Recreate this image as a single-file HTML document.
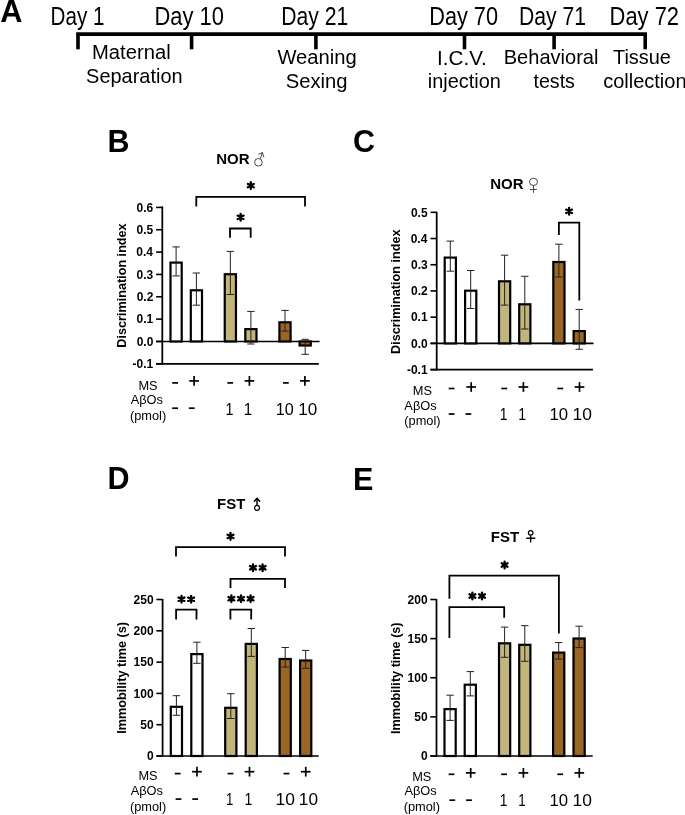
<!DOCTYPE html>
<html><head><meta charset="utf-8"><style>
html,body{margin:0;padding:0;background:#fff;}
svg{display:block;will-change:transform;}
text{font-family:"Liberation Sans",sans-serif;}
</style></head><body>
<svg width="685" height="815" viewBox="0 0 685 815">
<rect width="685" height="815" fill="#fff"/>
<text transform="translate(0.13,21.50) scale(0.9918,1)" font-size="31" font-weight="bold" fill="#000">A</text>
<text transform="translate(50.50,24.90) scale(0.8096,1)" font-size="25.5" font-weight="normal" fill="#000">Day 1</text>
<text transform="translate(154.49,24.90) scale(0.8583,1)" font-size="25.5" font-weight="normal" fill="#000">Day 10</text>
<text transform="translate(281.15,24.90) scale(0.8301,1)" font-size="25.5" font-weight="normal" fill="#000">Day 21</text>
<text transform="translate(429.21,24.90) scale(0.8519,1)" font-size="25.5" font-weight="normal" fill="#000">Day 70</text>
<text transform="translate(519.05,24.90) scale(0.8301,1)" font-size="25.5" font-weight="normal" fill="#000">Day 71</text>
<text transform="translate(609.59,24.90) scale(0.8593,1)" font-size="25.5" font-weight="normal" fill="#000">Day 72</text>
<line x1="76.20" y1="34.10" x2="647.00" y2="34.10" stroke="#000" stroke-width="3.6" stroke-linecap="butt"/>
<line x1="78.00" y1="34.10" x2="78.00" y2="49.30" stroke="#000" stroke-width="3.6" stroke-linecap="butt"/>
<line x1="191.60" y1="34.10" x2="191.60" y2="49.30" stroke="#000" stroke-width="3.6" stroke-linecap="butt"/>
<line x1="315.90" y1="34.10" x2="315.90" y2="49.30" stroke="#000" stroke-width="3.6" stroke-linecap="butt"/>
<line x1="464.50" y1="34.10" x2="464.50" y2="49.30" stroke="#000" stroke-width="3.6" stroke-linecap="butt"/>
<line x1="554.10" y1="34.10" x2="554.10" y2="49.30" stroke="#000" stroke-width="3.6" stroke-linecap="butt"/>
<line x1="645.20" y1="34.10" x2="645.20" y2="49.30" stroke="#000" stroke-width="3.6" stroke-linecap="butt"/>
<text transform="translate(92.03,59.20) scale(1.0107,1)" font-size="20.0" font-weight="normal" fill="#000">Maternal</text>
<text transform="translate(86.10,83.20) scale(0.9974,1)" font-size="20.0" font-weight="normal" fill="#000">Separation</text>
<text transform="translate(277.40,63.90) scale(1.0104,1)" font-size="20.0" font-weight="normal" fill="#000">Weaning</text>
<text transform="translate(285.69,87.60) scale(1.0102,1)" font-size="20.0" font-weight="normal" fill="#000">Sexing</text>
<text transform="translate(437.09,64.60) scale(1.0337,1)" font-size="20.0" font-weight="normal" fill="#000">I.C.V.</text>
<text transform="translate(427.85,87.70) scale(0.9965,1)" font-size="20.0" font-weight="normal" fill="#000">injection</text>
<text transform="translate(503.74,64.20) scale(1.0033,1)" font-size="20.0" font-weight="normal" fill="#000">Behavioral</text>
<text transform="translate(533.51,87.70) scale(0.9818,1)" font-size="20.0" font-weight="normal" fill="#000">tests</text>
<text transform="translate(612.95,64.20) scale(0.9974,1)" font-size="20.0" font-weight="normal" fill="#000">Tissue</text>
<text transform="translate(603.15,87.70) scale(1.0000,1)" font-size="20.0" font-weight="normal" fill="#000">collection</text>
<text transform="translate(107.44,152.00) scale(1.0000,1)" font-size="30.5" font-weight="bold" fill="#000">B</text>
<text transform="translate(216.29,164.30) scale(1.0000,1)" font-size="15" font-weight="bold" fill="#000">NOR</text>
<line x1="162.30" y1="206.40" x2="162.30" y2="364.59" stroke="#000" stroke-width="1.75" stroke-linecap="butt"/>
<line x1="156.10" y1="207.41" x2="162.30" y2="207.41" stroke="#000" stroke-width="1.6" stroke-linecap="butt"/>
<text transform="translate(136.60,211.71) scale(0.9700,1)" font-size="12.4" font-weight="bold" fill="#000">0.6</text>
<line x1="156.10" y1="229.75" x2="162.30" y2="229.75" stroke="#000" stroke-width="1.6" stroke-linecap="butt"/>
<text transform="translate(136.51,234.05) scale(0.9700,1)" font-size="12.4" font-weight="bold" fill="#000">0.5</text>
<line x1="156.10" y1="252.09" x2="162.30" y2="252.09" stroke="#000" stroke-width="1.6" stroke-linecap="butt"/>
<text transform="translate(136.24,256.39) scale(0.9700,1)" font-size="12.4" font-weight="bold" fill="#000">0.4</text>
<line x1="156.10" y1="274.43" x2="162.30" y2="274.43" stroke="#000" stroke-width="1.6" stroke-linecap="butt"/>
<text transform="translate(136.60,278.73) scale(0.9700,1)" font-size="12.4" font-weight="bold" fill="#000">0.3</text>
<line x1="156.10" y1="296.77" x2="162.30" y2="296.77" stroke="#000" stroke-width="1.6" stroke-linecap="butt"/>
<text transform="translate(136.63,301.07) scale(0.9700,1)" font-size="12.4" font-weight="bold" fill="#000">0.2</text>
<line x1="156.10" y1="319.11" x2="162.30" y2="319.11" stroke="#000" stroke-width="1.6" stroke-linecap="butt"/>
<text transform="translate(136.51,323.41) scale(0.9700,1)" font-size="12.4" font-weight="bold" fill="#000">0.1</text>
<line x1="156.10" y1="341.45" x2="162.30" y2="341.45" stroke="#000" stroke-width="1.6" stroke-linecap="butt"/>
<text transform="translate(136.66,345.75) scale(0.9700,1)" font-size="12.4" font-weight="bold" fill="#000">0.0</text>
<line x1="156.10" y1="363.79" x2="162.30" y2="363.79" stroke="#000" stroke-width="1.6" stroke-linecap="butt"/>
<text transform="translate(132.51,368.09) scale(0.9700,1)" font-size="12.4" font-weight="bold" fill="#000">-0.1</text>
<line x1="156.10" y1="363.79" x2="318.80" y2="363.79" stroke="#000" stroke-width="1.7" stroke-linecap="butt"/>
<line x1="156.10" y1="341.45" x2="319.60" y2="341.45" stroke="#000" stroke-width="1.6" stroke-linecap="butt"/>
<text transform="translate(126.27,347.69) rotate(-90) scale(1.0000,1)" font-size="12.65" font-weight="bold">Discrimination index</text>
<rect x="170.50" y="262.60" width="11.20" height="78.85" fill="#ffffff" stroke="#000" stroke-width="2.2"/>
<rect x="190.80" y="290.30" width="11.20" height="51.15" fill="#ffffff" stroke="#000" stroke-width="2.2"/>
<rect x="224.75" y="274.20" width="11.20" height="67.25" fill="#c1b57b" stroke="#000" stroke-width="2.2"/>
<rect x="245.30" y="329.10" width="11.20" height="12.35" fill="#c1b57b" stroke="#000" stroke-width="2.2"/>
<rect x="279.40" y="322.30" width="11.20" height="19.15" fill="#9a6626" stroke="#000" stroke-width="2.2"/>
<rect x="299.60" y="341.45" width="11.20" height="4.05" fill="#9a6626" stroke="#000" stroke-width="2.2"/>
<line x1="176.10" y1="246.90" x2="176.10" y2="275.90" stroke="#222" stroke-width="1.0" stroke-linecap="butt"/>
<line x1="172.40" y1="246.90" x2="179.80" y2="246.90" stroke="#222" stroke-width="1.0" stroke-linecap="butt"/>
<line x1="172.40" y1="275.90" x2="179.80" y2="275.90" stroke="#222" stroke-width="1.0" stroke-linecap="butt"/>
<line x1="196.40" y1="273.00" x2="196.40" y2="305.20" stroke="#222" stroke-width="1.0" stroke-linecap="butt"/>
<line x1="192.70" y1="273.00" x2="200.10" y2="273.00" stroke="#222" stroke-width="1.0" stroke-linecap="butt"/>
<line x1="192.70" y1="305.20" x2="200.10" y2="305.20" stroke="#222" stroke-width="1.0" stroke-linecap="butt"/>
<line x1="230.35" y1="251.40" x2="230.35" y2="294.50" stroke="#222" stroke-width="1.0" stroke-linecap="butt"/>
<line x1="226.65" y1="251.40" x2="234.05" y2="251.40" stroke="#222" stroke-width="1.0" stroke-linecap="butt"/>
<line x1="226.65" y1="294.50" x2="234.05" y2="294.50" stroke="#222" stroke-width="1.0" stroke-linecap="butt"/>
<line x1="250.90" y1="311.40" x2="250.90" y2="344.00" stroke="#222" stroke-width="1.0" stroke-linecap="butt"/>
<line x1="247.20" y1="311.40" x2="254.60" y2="311.40" stroke="#222" stroke-width="1.0" stroke-linecap="butt"/>
<line x1="247.20" y1="344.00" x2="254.60" y2="344.00" stroke="#222" stroke-width="1.0" stroke-linecap="butt"/>
<line x1="285.00" y1="310.40" x2="285.00" y2="331.10" stroke="#222" stroke-width="1.0" stroke-linecap="butt"/>
<line x1="281.30" y1="310.40" x2="288.70" y2="310.40" stroke="#222" stroke-width="1.0" stroke-linecap="butt"/>
<line x1="281.30" y1="331.10" x2="288.70" y2="331.10" stroke="#222" stroke-width="1.0" stroke-linecap="butt"/>
<line x1="305.20" y1="339.30" x2="305.20" y2="354.30" stroke="#222" stroke-width="1.0" stroke-linecap="butt"/>
<line x1="301.50" y1="339.30" x2="308.90" y2="339.30" stroke="#222" stroke-width="1.0" stroke-linecap="butt"/>
<line x1="301.50" y1="354.30" x2="308.90" y2="354.30" stroke="#222" stroke-width="1.0" stroke-linecap="butt"/>
<path d="M196.30,206.50L196.30,196.80L305.00,196.80L305.00,206.50" stroke="#000" stroke-width="1.8" fill="none" stroke-linejoin="miter"/>
<path d="M250.80,189.00L250.80,182.20M247.86,187.30L253.74,183.90M253.74,187.30L247.86,183.90" stroke="#000" stroke-width="2.3" stroke-linecap="round" fill="none"/>
<path d="M230.00,237.80L230.00,228.50L250.70,228.50L250.70,237.80" stroke="#000" stroke-width="1.8" fill="none" stroke-linejoin="miter"/>
<path d="M240.60,220.70L240.60,213.90M237.66,219.00L243.54,215.60M243.54,219.00L237.66,215.60" stroke="#000" stroke-width="2.3" stroke-linecap="round" fill="none"/>
<text transform="translate(353.08,152.00) scale(1.0000,1)" font-size="30.5" font-weight="bold" fill="#000">C</text>
<text transform="translate(490.29,189.30) scale(1.0000,1)" font-size="15" font-weight="bold" fill="#000">NOR</text>
<line x1="436.70" y1="211.80" x2="436.70" y2="370.42" stroke="#000" stroke-width="1.75" stroke-linecap="butt"/>
<line x1="430.50" y1="212.30" x2="436.70" y2="212.30" stroke="#000" stroke-width="1.6" stroke-linecap="butt"/>
<text transform="translate(410.91,216.60) scale(0.9700,1)" font-size="12.4" font-weight="bold" fill="#000">0.5</text>
<line x1="430.50" y1="238.52" x2="436.70" y2="238.52" stroke="#000" stroke-width="1.6" stroke-linecap="butt"/>
<text transform="translate(410.64,242.82) scale(0.9700,1)" font-size="12.4" font-weight="bold" fill="#000">0.4</text>
<line x1="430.50" y1="264.74" x2="436.70" y2="264.74" stroke="#000" stroke-width="1.6" stroke-linecap="butt"/>
<text transform="translate(411.00,269.04) scale(0.9700,1)" font-size="12.4" font-weight="bold" fill="#000">0.3</text>
<line x1="430.50" y1="290.96" x2="436.70" y2="290.96" stroke="#000" stroke-width="1.6" stroke-linecap="butt"/>
<text transform="translate(411.03,295.26) scale(0.9700,1)" font-size="12.4" font-weight="bold" fill="#000">0.2</text>
<line x1="430.50" y1="317.18" x2="436.70" y2="317.18" stroke="#000" stroke-width="1.6" stroke-linecap="butt"/>
<text transform="translate(410.91,321.48) scale(0.9700,1)" font-size="12.4" font-weight="bold" fill="#000">0.1</text>
<line x1="430.50" y1="343.40" x2="436.70" y2="343.40" stroke="#000" stroke-width="1.6" stroke-linecap="butt"/>
<text transform="translate(411.06,347.70) scale(0.9700,1)" font-size="12.4" font-weight="bold" fill="#000">0.0</text>
<line x1="430.50" y1="369.62" x2="436.70" y2="369.62" stroke="#000" stroke-width="1.6" stroke-linecap="butt"/>
<text transform="translate(406.91,373.92) scale(0.9700,1)" font-size="12.4" font-weight="bold" fill="#000">-0.1</text>
<line x1="430.50" y1="369.62" x2="592.90" y2="369.62" stroke="#000" stroke-width="1.7" stroke-linecap="butt"/>
<line x1="430.50" y1="343.40" x2="593.50" y2="343.40" stroke="#000" stroke-width="1.6" stroke-linecap="butt"/>
<text transform="translate(399.97,353.89) rotate(-90) scale(1.0000,1)" font-size="12.65" font-weight="bold">Discrimination index</text>
<rect x="444.70" y="257.60" width="11.20" height="85.80" fill="#ffffff" stroke="#000" stroke-width="2.2"/>
<rect x="465.10" y="290.70" width="11.20" height="52.70" fill="#ffffff" stroke="#000" stroke-width="2.2"/>
<rect x="499.00" y="281.30" width="11.20" height="62.10" fill="#c1b57b" stroke="#000" stroke-width="2.2"/>
<rect x="519.20" y="304.30" width="11.20" height="39.10" fill="#c1b57b" stroke="#000" stroke-width="2.2"/>
<rect x="553.30" y="262.00" width="11.20" height="81.40" fill="#9a6626" stroke="#000" stroke-width="2.2"/>
<rect x="573.60" y="331.10" width="11.20" height="12.30" fill="#9a6626" stroke="#000" stroke-width="2.2"/>
<line x1="450.30" y1="241.10" x2="450.30" y2="271.20" stroke="#222" stroke-width="1.0" stroke-linecap="butt"/>
<line x1="446.60" y1="241.10" x2="454.00" y2="241.10" stroke="#222" stroke-width="1.0" stroke-linecap="butt"/>
<line x1="446.60" y1="271.20" x2="454.00" y2="271.20" stroke="#222" stroke-width="1.0" stroke-linecap="butt"/>
<line x1="470.70" y1="270.50" x2="470.70" y2="308.50" stroke="#222" stroke-width="1.0" stroke-linecap="butt"/>
<line x1="467.00" y1="270.50" x2="474.40" y2="270.50" stroke="#222" stroke-width="1.0" stroke-linecap="butt"/>
<line x1="467.00" y1="308.50" x2="474.40" y2="308.50" stroke="#222" stroke-width="1.0" stroke-linecap="butt"/>
<line x1="504.60" y1="255.20" x2="504.60" y2="305.10" stroke="#222" stroke-width="1.0" stroke-linecap="butt"/>
<line x1="500.90" y1="255.20" x2="508.30" y2="255.20" stroke="#222" stroke-width="1.0" stroke-linecap="butt"/>
<line x1="500.90" y1="305.10" x2="508.30" y2="305.10" stroke="#222" stroke-width="1.0" stroke-linecap="butt"/>
<line x1="524.80" y1="276.30" x2="524.80" y2="329.00" stroke="#222" stroke-width="1.0" stroke-linecap="butt"/>
<line x1="521.10" y1="276.30" x2="528.50" y2="276.30" stroke="#222" stroke-width="1.0" stroke-linecap="butt"/>
<line x1="521.10" y1="329.00" x2="528.50" y2="329.00" stroke="#222" stroke-width="1.0" stroke-linecap="butt"/>
<line x1="558.90" y1="244.20" x2="558.90" y2="277.00" stroke="#222" stroke-width="1.0" stroke-linecap="butt"/>
<line x1="555.20" y1="244.20" x2="562.60" y2="244.20" stroke="#222" stroke-width="1.0" stroke-linecap="butt"/>
<line x1="555.20" y1="277.00" x2="562.60" y2="277.00" stroke="#222" stroke-width="1.0" stroke-linecap="butt"/>
<line x1="579.20" y1="309.40" x2="579.20" y2="349.30" stroke="#222" stroke-width="1.0" stroke-linecap="butt"/>
<line x1="575.50" y1="309.40" x2="582.90" y2="309.40" stroke="#222" stroke-width="1.0" stroke-linecap="butt"/>
<line x1="575.50" y1="349.30" x2="582.90" y2="349.30" stroke="#222" stroke-width="1.0" stroke-linecap="butt"/>
<path d="M558.90,235.10L558.90,222.60L579.30,222.60L579.30,300.50" stroke="#000" stroke-width="1.8" fill="none" stroke-linejoin="miter"/>
<path d="M569.10,214.70L569.10,207.90M566.16,213.00L572.04,209.60M572.04,213.00L566.16,209.60" stroke="#000" stroke-width="2.3" stroke-linecap="round" fill="none"/>
<text transform="translate(107.44,489.20) scale(1.0000,1)" font-size="30.5" font-weight="bold" fill="#000">D</text>
<text transform="translate(217.09,509.40) scale(1.0000,1)" font-size="15" font-weight="bold" fill="#000">FST</text>
<line x1="162.60" y1="599.00" x2="162.60" y2="756.80" stroke="#000" stroke-width="1.75" stroke-linecap="butt"/>
<line x1="156.40" y1="599.50" x2="162.60" y2="599.50" stroke="#000" stroke-width="1.6" stroke-linecap="butt"/>
<text transform="translate(133.62,603.80) scale(0.9700,1)" font-size="12.4" font-weight="bold" fill="#000">250</text>
<line x1="156.40" y1="630.80" x2="162.60" y2="630.80" stroke="#000" stroke-width="1.6" stroke-linecap="butt"/>
<text transform="translate(133.62,635.10) scale(0.9700,1)" font-size="12.4" font-weight="bold" fill="#000">200</text>
<line x1="156.40" y1="662.10" x2="162.60" y2="662.10" stroke="#000" stroke-width="1.6" stroke-linecap="butt"/>
<text transform="translate(133.62,666.40) scale(0.9700,1)" font-size="12.4" font-weight="bold" fill="#000">150</text>
<line x1="156.40" y1="693.40" x2="162.60" y2="693.40" stroke="#000" stroke-width="1.6" stroke-linecap="butt"/>
<text transform="translate(133.62,697.70) scale(0.9700,1)" font-size="12.4" font-weight="bold" fill="#000">100</text>
<line x1="156.40" y1="724.70" x2="162.60" y2="724.70" stroke="#000" stroke-width="1.6" stroke-linecap="butt"/>
<text transform="translate(140.33,729.00) scale(0.9700,1)" font-size="12.4" font-weight="bold" fill="#000">50</text>
<line x1="156.40" y1="756.00" x2="162.60" y2="756.00" stroke="#000" stroke-width="1.6" stroke-linecap="butt"/>
<text transform="translate(147.01,760.30) scale(0.9700,1)" font-size="12.4" font-weight="bold" fill="#000">0</text>
<line x1="156.40" y1="756.00" x2="318.75" y2="756.00" stroke="#000" stroke-width="1.7" stroke-linecap="butt"/>
<text transform="translate(125.67,733.79) rotate(-90) scale(1.0000,1)" font-size="12.65" font-weight="bold">Immobility time (s)</text>
<rect x="170.80" y="706.80" width="11.20" height="49.20" fill="#ffffff" stroke="#000" stroke-width="2.2"/>
<rect x="191.30" y="654.10" width="11.20" height="101.90" fill="#ffffff" stroke="#000" stroke-width="2.2"/>
<rect x="225.20" y="707.80" width="11.20" height="48.20" fill="#c1b57b" stroke="#000" stroke-width="2.2"/>
<rect x="245.70" y="643.90" width="11.20" height="112.10" fill="#c1b57b" stroke="#000" stroke-width="2.2"/>
<rect x="279.60" y="659.00" width="11.20" height="97.00" fill="#9a6626" stroke="#000" stroke-width="2.2"/>
<rect x="300.10" y="660.50" width="11.20" height="95.50" fill="#9a6626" stroke="#000" stroke-width="2.2"/>
<line x1="176.40" y1="695.70" x2="176.40" y2="715.30" stroke="#222" stroke-width="1.0" stroke-linecap="butt"/>
<line x1="172.70" y1="695.70" x2="180.10" y2="695.70" stroke="#222" stroke-width="1.0" stroke-linecap="butt"/>
<line x1="172.70" y1="715.30" x2="180.10" y2="715.30" stroke="#222" stroke-width="1.0" stroke-linecap="butt"/>
<line x1="196.90" y1="642.20" x2="196.90" y2="663.30" stroke="#222" stroke-width="1.0" stroke-linecap="butt"/>
<line x1="193.20" y1="642.20" x2="200.60" y2="642.20" stroke="#222" stroke-width="1.0" stroke-linecap="butt"/>
<line x1="193.20" y1="663.30" x2="200.60" y2="663.30" stroke="#222" stroke-width="1.0" stroke-linecap="butt"/>
<line x1="230.80" y1="693.70" x2="230.80" y2="718.50" stroke="#222" stroke-width="1.0" stroke-linecap="butt"/>
<line x1="227.10" y1="693.70" x2="234.50" y2="693.70" stroke="#222" stroke-width="1.0" stroke-linecap="butt"/>
<line x1="227.10" y1="718.50" x2="234.50" y2="718.50" stroke="#222" stroke-width="1.0" stroke-linecap="butt"/>
<line x1="251.30" y1="628.50" x2="251.30" y2="656.40" stroke="#222" stroke-width="1.0" stroke-linecap="butt"/>
<line x1="247.60" y1="628.50" x2="255.00" y2="628.50" stroke="#222" stroke-width="1.0" stroke-linecap="butt"/>
<line x1="247.60" y1="656.40" x2="255.00" y2="656.40" stroke="#222" stroke-width="1.0" stroke-linecap="butt"/>
<line x1="285.20" y1="647.50" x2="285.20" y2="667.10" stroke="#222" stroke-width="1.0" stroke-linecap="butt"/>
<line x1="281.50" y1="647.50" x2="288.90" y2="647.50" stroke="#222" stroke-width="1.0" stroke-linecap="butt"/>
<line x1="281.50" y1="667.10" x2="288.90" y2="667.10" stroke="#222" stroke-width="1.0" stroke-linecap="butt"/>
<line x1="305.70" y1="650.40" x2="305.70" y2="668.30" stroke="#222" stroke-width="1.0" stroke-linecap="butt"/>
<line x1="302.00" y1="650.40" x2="309.40" y2="650.40" stroke="#222" stroke-width="1.0" stroke-linecap="butt"/>
<line x1="302.00" y1="668.30" x2="309.40" y2="668.30" stroke="#222" stroke-width="1.0" stroke-linecap="butt"/>
<path d="M176.00,556.60L176.00,547.10L285.00,547.10L285.00,556.60" stroke="#000" stroke-width="1.8" fill="none" stroke-linejoin="miter"/>
<path d="M230.50,539.80L230.50,533.00M227.56,538.10L233.44,534.70M233.44,538.10L227.56,534.70" stroke="#000" stroke-width="2.3" stroke-linecap="round" fill="none"/>
<path d="M230.50,588.00L230.50,578.80L285.00,578.80L285.00,588.00" stroke="#000" stroke-width="1.8" fill="none" stroke-linejoin="miter"/>
<path d="M253.00,571.15L253.00,564.35M250.06,569.45L255.94,566.05M255.94,569.45L250.06,566.05" stroke="#000" stroke-width="2.3" stroke-linecap="round" fill="none"/>
<path d="M262.60,571.15L262.60,564.35M259.66,569.45L265.54,566.05M265.54,569.45L259.66,566.05" stroke="#000" stroke-width="2.3" stroke-linecap="round" fill="none"/>
<path d="M176.10,619.60L176.10,609.70L196.50,609.70L196.50,619.60" stroke="#000" stroke-width="1.8" fill="none" stroke-linejoin="miter"/>
<path d="M181.50,602.60L181.50,595.80M178.56,600.90L184.44,597.50M184.44,600.90L178.56,597.50" stroke="#000" stroke-width="2.3" stroke-linecap="round" fill="none"/>
<path d="M191.10,602.60L191.10,595.80M188.16,600.90L194.04,597.50M194.04,600.90L188.16,597.50" stroke="#000" stroke-width="2.3" stroke-linecap="round" fill="none"/>
<path d="M230.40,619.60L230.40,609.70L251.20,609.70L251.20,619.60" stroke="#000" stroke-width="1.8" fill="none" stroke-linejoin="miter"/>
<path d="M231.40,602.10L231.40,595.30M228.46,600.40L234.34,597.00M234.34,600.40L228.46,597.00" stroke="#000" stroke-width="2.3" stroke-linecap="round" fill="none"/>
<path d="M241.00,602.10L241.00,595.30M238.06,600.40L243.94,597.00M243.94,600.40L238.06,597.00" stroke="#000" stroke-width="2.3" stroke-linecap="round" fill="none"/>
<path d="M250.60,602.10L250.60,595.30M247.66,600.40L253.54,597.00M253.54,600.40L247.66,597.00" stroke="#000" stroke-width="2.3" stroke-linecap="round" fill="none"/>
<text transform="translate(353.04,489.60) scale(1.0000,1)" font-size="30.5" font-weight="bold" fill="#000">E</text>
<text transform="translate(490.79,541.60) scale(1.0000,1)" font-size="15" font-weight="bold" fill="#000">FST</text>
<line x1="436.50" y1="599.00" x2="436.50" y2="756.80" stroke="#000" stroke-width="1.75" stroke-linecap="butt"/>
<line x1="430.30" y1="599.50" x2="436.50" y2="599.50" stroke="#000" stroke-width="1.6" stroke-linecap="butt"/>
<text transform="translate(407.52,603.80) scale(0.9700,1)" font-size="12.4" font-weight="bold" fill="#000">200</text>
<line x1="430.30" y1="638.62" x2="436.50" y2="638.62" stroke="#000" stroke-width="1.6" stroke-linecap="butt"/>
<text transform="translate(407.52,642.92) scale(0.9700,1)" font-size="12.4" font-weight="bold" fill="#000">150</text>
<line x1="430.30" y1="677.75" x2="436.50" y2="677.75" stroke="#000" stroke-width="1.6" stroke-linecap="butt"/>
<text transform="translate(407.52,682.05) scale(0.9700,1)" font-size="12.4" font-weight="bold" fill="#000">100</text>
<line x1="430.30" y1="716.88" x2="436.50" y2="716.88" stroke="#000" stroke-width="1.6" stroke-linecap="butt"/>
<text transform="translate(414.23,721.17) scale(0.9700,1)" font-size="12.4" font-weight="bold" fill="#000">50</text>
<line x1="430.30" y1="756.00" x2="436.50" y2="756.00" stroke="#000" stroke-width="1.6" stroke-linecap="butt"/>
<text transform="translate(420.91,760.30) scale(0.9700,1)" font-size="12.4" font-weight="bold" fill="#000">0</text>
<line x1="430.30" y1="756.00" x2="592.70" y2="756.00" stroke="#000" stroke-width="1.7" stroke-linecap="butt"/>
<text transform="translate(400.17,734.09) rotate(-90) scale(1.0000,1)" font-size="12.65" font-weight="bold">Immobility time (s)</text>
<rect x="444.50" y="709.10" width="11.20" height="46.90" fill="#ffffff" stroke="#000" stroke-width="2.2"/>
<rect x="464.70" y="684.70" width="11.20" height="71.30" fill="#ffffff" stroke="#000" stroke-width="2.2"/>
<rect x="499.00" y="643.30" width="11.20" height="112.70" fill="#c1b57b" stroke="#000" stroke-width="2.2"/>
<rect x="519.20" y="644.80" width="11.20" height="111.20" fill="#c1b57b" stroke="#000" stroke-width="2.2"/>
<rect x="553.10" y="652.60" width="11.20" height="103.40" fill="#9a6626" stroke="#000" stroke-width="2.2"/>
<rect x="573.50" y="638.50" width="11.20" height="117.50" fill="#9a6626" stroke="#000" stroke-width="2.2"/>
<line x1="450.10" y1="695.20" x2="450.10" y2="720.40" stroke="#222" stroke-width="1.0" stroke-linecap="butt"/>
<line x1="446.40" y1="695.20" x2="453.80" y2="695.20" stroke="#222" stroke-width="1.0" stroke-linecap="butt"/>
<line x1="446.40" y1="720.40" x2="453.80" y2="720.40" stroke="#222" stroke-width="1.0" stroke-linecap="butt"/>
<line x1="470.30" y1="671.60" x2="470.30" y2="695.90" stroke="#222" stroke-width="1.0" stroke-linecap="butt"/>
<line x1="466.60" y1="671.60" x2="474.00" y2="671.60" stroke="#222" stroke-width="1.0" stroke-linecap="butt"/>
<line x1="466.60" y1="695.90" x2="474.00" y2="695.90" stroke="#222" stroke-width="1.0" stroke-linecap="butt"/>
<line x1="504.60" y1="627.10" x2="504.60" y2="657.30" stroke="#222" stroke-width="1.0" stroke-linecap="butt"/>
<line x1="500.90" y1="627.10" x2="508.30" y2="627.10" stroke="#222" stroke-width="1.0" stroke-linecap="butt"/>
<line x1="500.90" y1="657.30" x2="508.30" y2="657.30" stroke="#222" stroke-width="1.0" stroke-linecap="butt"/>
<line x1="524.80" y1="625.70" x2="524.80" y2="661.30" stroke="#222" stroke-width="1.0" stroke-linecap="butt"/>
<line x1="521.10" y1="625.70" x2="528.50" y2="625.70" stroke="#222" stroke-width="1.0" stroke-linecap="butt"/>
<line x1="521.10" y1="661.30" x2="528.50" y2="661.30" stroke="#222" stroke-width="1.0" stroke-linecap="butt"/>
<line x1="558.70" y1="642.60" x2="558.70" y2="659.10" stroke="#222" stroke-width="1.0" stroke-linecap="butt"/>
<line x1="555.00" y1="642.60" x2="562.40" y2="642.60" stroke="#222" stroke-width="1.0" stroke-linecap="butt"/>
<line x1="555.00" y1="659.10" x2="562.40" y2="659.10" stroke="#222" stroke-width="1.0" stroke-linecap="butt"/>
<line x1="579.10" y1="626.20" x2="579.10" y2="647.60" stroke="#222" stroke-width="1.0" stroke-linecap="butt"/>
<line x1="575.40" y1="626.20" x2="582.80" y2="626.20" stroke="#222" stroke-width="1.0" stroke-linecap="butt"/>
<line x1="575.40" y1="647.60" x2="582.80" y2="647.60" stroke="#222" stroke-width="1.0" stroke-linecap="butt"/>
<path d="M449.40,598.70L449.40,575.70L558.90,575.70L558.90,633.50" stroke="#000" stroke-width="1.8" fill="none" stroke-linejoin="miter"/>
<path d="M504.60,568.40L504.60,561.60M501.66,566.70L507.54,563.30M507.54,566.70L501.66,563.30" stroke="#000" stroke-width="2.3" stroke-linecap="round" fill="none"/>
<path d="M449.40,638.10L449.40,607.20L504.20,607.20L504.20,617.70" stroke="#000" stroke-width="1.8" fill="none" stroke-linejoin="miter"/>
<path d="M472.40,599.40L472.40,592.60M469.46,597.70L475.34,594.30M475.34,597.70L469.46,594.30" stroke="#000" stroke-width="2.3" stroke-linecap="round" fill="none"/>
<path d="M482.00,599.40L482.00,592.60M479.06,597.70L484.94,594.30M484.94,597.70L479.06,594.30" stroke="#000" stroke-width="2.3" stroke-linecap="round" fill="none"/>
<path d="M260.3,158.6L262.4,152.5M258.3,154.4L262.4,152.5L263.9,157.3" stroke="#333" stroke-width="0.9" fill="none" />
<circle cx="258.4" cy="162.3" r="3.8" stroke="#333" stroke-width="0.9" fill="none"/>
<ellipse cx="533.5" cy="181.85" rx="4.0" ry="3.6" stroke="#333" stroke-width="0.9" fill="none"/>
<path d="M533.5,185.5L533.5,192.8M529.9,189.5L536.8,189.5" stroke="#333" stroke-width="0.9" fill="none" />
<circle cx="257.0" cy="507.9" r="2.45" stroke="#000" stroke-width="1.2" fill="none"/>
<path d="M257.05,505.3L257.05,498.6" stroke="#000" stroke-width="1.5" fill="none" />
<path d="M254.4,501.3L257.05,498.3L259.7,501.3" stroke="#000" stroke-width="1.5" fill="none" stroke-linecap="round" stroke-linejoin="round"/>
<circle cx="530.7" cy="532.8" r="2.3" stroke="#000" stroke-width="1.25" fill="none"/>
<path d="M530.65,535.2L530.65,542.6M526.2,538.2L535.3,538.2" stroke="#000" stroke-width="1.35" fill="none" />
<text transform="translate(138.44,389.70) scale(1.0000,1)" font-size="12.8" font-weight="normal" fill="#000">MS</text>
<text transform="translate(130.67,404.30) scale(1.0000,1)" font-size="12.8" font-weight="normal" fill="#000">AβOs</text>
<text transform="translate(129.90,419.94) scale(1.0000,1)" font-size="12.8" font-weight="normal" fill="#000">(pmol)</text>
<line x1="172.20" y1="382.90" x2="178.00" y2="382.90" stroke="#000" stroke-width="1.7" stroke-linecap="butt"/>
<line x1="189.25" y1="380.90" x2="198.95" y2="380.90" stroke="#000" stroke-width="1.7" stroke-linecap="butt"/>
<line x1="194.10" y1="376.05" x2="194.10" y2="385.75" stroke="#000" stroke-width="1.7" stroke-linecap="butt"/>
<line x1="227.30" y1="382.90" x2="233.10" y2="382.90" stroke="#000" stroke-width="1.7" stroke-linecap="butt"/>
<line x1="244.55" y1="380.90" x2="254.25" y2="380.90" stroke="#000" stroke-width="1.7" stroke-linecap="butt"/>
<line x1="249.40" y1="376.05" x2="249.40" y2="385.75" stroke="#000" stroke-width="1.7" stroke-linecap="butt"/>
<line x1="282.95" y1="382.90" x2="288.75" y2="382.90" stroke="#000" stroke-width="1.7" stroke-linecap="butt"/>
<line x1="300.05" y1="380.90" x2="309.75" y2="380.90" stroke="#000" stroke-width="1.7" stroke-linecap="butt"/>
<line x1="304.90" y1="376.05" x2="304.90" y2="385.75" stroke="#000" stroke-width="1.7" stroke-linecap="butt"/>
<line x1="172.20" y1="408.20" x2="178.00" y2="408.20" stroke="#000" stroke-width="1.7" stroke-linecap="butt"/>
<line x1="188.85" y1="408.20" x2="194.65" y2="408.20" stroke="#000" stroke-width="1.7" stroke-linecap="butt"/>
<text transform="translate(225.52,414.50) scale(0.8688,1)" font-size="16.5" font-weight="normal" fill="#000">1</text>
<text transform="translate(243.66,414.50) scale(0.9249,1)" font-size="16.5" font-weight="normal" fill="#000">1</text>
<text transform="translate(275.69,414.50) scale(0.9782,1)" font-size="16.5" font-weight="normal" fill="#000">10</text>
<text transform="translate(298.32,414.50) scale(1.0329,1)" font-size="16.5" font-weight="normal" fill="#000">10</text>
<text transform="translate(412.84,395.00) scale(1.0000,1)" font-size="12.8" font-weight="normal" fill="#000">MS</text>
<text transform="translate(404.37,409.60) scale(1.0000,1)" font-size="12.8" font-weight="normal" fill="#000">AβOs</text>
<text transform="translate(404.30,424.74) scale(1.0000,1)" font-size="12.8" font-weight="normal" fill="#000">(pmol)</text>
<line x1="448.70" y1="388.50" x2="454.50" y2="388.50" stroke="#000" stroke-width="1.7" stroke-linecap="butt"/>
<line x1="466.35" y1="387.00" x2="476.05" y2="387.00" stroke="#000" stroke-width="1.7" stroke-linecap="butt"/>
<line x1="471.20" y1="382.15" x2="471.20" y2="391.85" stroke="#000" stroke-width="1.7" stroke-linecap="butt"/>
<line x1="501.40" y1="388.50" x2="507.20" y2="388.50" stroke="#000" stroke-width="1.7" stroke-linecap="butt"/>
<line x1="518.55" y1="387.00" x2="528.25" y2="387.00" stroke="#000" stroke-width="1.7" stroke-linecap="butt"/>
<line x1="523.40" y1="382.15" x2="523.40" y2="391.85" stroke="#000" stroke-width="1.7" stroke-linecap="butt"/>
<line x1="557.40" y1="388.50" x2="563.20" y2="388.50" stroke="#000" stroke-width="1.7" stroke-linecap="butt"/>
<line x1="574.65" y1="387.00" x2="584.35" y2="387.00" stroke="#000" stroke-width="1.7" stroke-linecap="butt"/>
<line x1="579.50" y1="382.15" x2="579.50" y2="391.85" stroke="#000" stroke-width="1.7" stroke-linecap="butt"/>
<line x1="448.70" y1="414.00" x2="454.50" y2="414.00" stroke="#000" stroke-width="1.7" stroke-linecap="butt"/>
<line x1="465.50" y1="414.00" x2="471.30" y2="414.00" stroke="#000" stroke-width="1.7" stroke-linecap="butt"/>
<text transform="translate(499.86,420.10) scale(0.8408,1)" font-size="16.5" font-weight="normal" fill="#000">1</text>
<text transform="translate(518.14,420.10) scale(0.8548,1)" font-size="16.5" font-weight="normal" fill="#000">1</text>
<text transform="translate(549.44,420.10) scale(1.0147,1)" font-size="16.5" font-weight="normal" fill="#000">10</text>
<text transform="translate(572.49,420.10) scale(1.0572,1)" font-size="16.5" font-weight="normal" fill="#000">10</text>
<text transform="translate(138.44,780.40) scale(1.0000,1)" font-size="12.8" font-weight="normal" fill="#000">MS</text>
<text transform="translate(130.67,795.00) scale(1.0000,1)" font-size="12.8" font-weight="normal" fill="#000">AβOs</text>
<text transform="translate(129.90,810.64) scale(1.0000,1)" font-size="12.8" font-weight="normal" fill="#000">(pmol)</text>
<line x1="174.80" y1="773.60" x2="180.60" y2="773.60" stroke="#000" stroke-width="1.7" stroke-linecap="butt"/>
<line x1="192.10" y1="771.70" x2="201.80" y2="771.70" stroke="#000" stroke-width="1.7" stroke-linecap="butt"/>
<line x1="196.95" y1="766.85" x2="196.95" y2="776.55" stroke="#000" stroke-width="1.7" stroke-linecap="butt"/>
<line x1="227.55" y1="773.60" x2="233.35" y2="773.60" stroke="#000" stroke-width="1.7" stroke-linecap="butt"/>
<line x1="244.65" y1="771.70" x2="254.35" y2="771.70" stroke="#000" stroke-width="1.7" stroke-linecap="butt"/>
<line x1="249.50" y1="766.85" x2="249.50" y2="776.55" stroke="#000" stroke-width="1.7" stroke-linecap="butt"/>
<line x1="283.55" y1="773.60" x2="289.35" y2="773.60" stroke="#000" stroke-width="1.7" stroke-linecap="butt"/>
<line x1="300.90" y1="771.70" x2="310.60" y2="771.70" stroke="#000" stroke-width="1.7" stroke-linecap="butt"/>
<line x1="305.75" y1="766.85" x2="305.75" y2="776.55" stroke="#000" stroke-width="1.7" stroke-linecap="butt"/>
<line x1="175.60" y1="799.10" x2="181.40" y2="799.10" stroke="#000" stroke-width="1.7" stroke-linecap="butt"/>
<line x1="192.30" y1="799.10" x2="198.10" y2="799.10" stroke="#000" stroke-width="1.7" stroke-linecap="butt"/>
<text transform="translate(226.01,805.30) scale(0.7987,1)" font-size="16.5" font-weight="normal" fill="#000">1</text>
<text transform="translate(244.44,805.30) scale(0.8548,1)" font-size="16.5" font-weight="normal" fill="#000">1</text>
<text transform="translate(275.49,805.30) scale(1.0572,1)" font-size="16.5" font-weight="normal" fill="#000">10</text>
<text transform="translate(298.81,805.30) scale(1.0450,1)" font-size="16.5" font-weight="normal" fill="#000">10</text>
<text transform="translate(412.14,780.80) scale(1.0000,1)" font-size="12.8" font-weight="normal" fill="#000">MS</text>
<text transform="translate(404.47,795.40) scale(1.0000,1)" font-size="12.8" font-weight="normal" fill="#000">AβOs</text>
<text transform="translate(403.70,810.94) scale(1.0000,1)" font-size="12.8" font-weight="normal" fill="#000">(pmol)</text>
<line x1="448.60" y1="774.30" x2="454.40" y2="774.30" stroke="#000" stroke-width="1.7" stroke-linecap="butt"/>
<line x1="465.85" y1="772.90" x2="475.55" y2="772.90" stroke="#000" stroke-width="1.7" stroke-linecap="butt"/>
<line x1="470.70" y1="768.05" x2="470.70" y2="777.75" stroke="#000" stroke-width="1.7" stroke-linecap="butt"/>
<line x1="501.15" y1="774.30" x2="506.95" y2="774.30" stroke="#000" stroke-width="1.7" stroke-linecap="butt"/>
<line x1="518.55" y1="772.90" x2="528.25" y2="772.90" stroke="#000" stroke-width="1.7" stroke-linecap="butt"/>
<line x1="523.40" y1="768.05" x2="523.40" y2="777.75" stroke="#000" stroke-width="1.7" stroke-linecap="butt"/>
<line x1="557.35" y1="774.30" x2="563.15" y2="774.30" stroke="#000" stroke-width="1.7" stroke-linecap="butt"/>
<line x1="574.45" y1="772.90" x2="584.15" y2="772.90" stroke="#000" stroke-width="1.7" stroke-linecap="butt"/>
<line x1="579.30" y1="768.05" x2="579.30" y2="777.75" stroke="#000" stroke-width="1.7" stroke-linecap="butt"/>
<line x1="449.40" y1="800.20" x2="455.20" y2="800.20" stroke="#000" stroke-width="1.7" stroke-linecap="butt"/>
<line x1="466.10" y1="800.20" x2="471.90" y2="800.20" stroke="#000" stroke-width="1.7" stroke-linecap="butt"/>
<text transform="translate(499.86,806.10) scale(0.8408,1)" font-size="16.5" font-weight="normal" fill="#000">1</text>
<text transform="translate(518.19,806.10) scale(0.8128,1)" font-size="16.5" font-weight="normal" fill="#000">1</text>
<text transform="translate(549.44,806.10) scale(1.0147,1)" font-size="16.5" font-weight="normal" fill="#000">10</text>
<text transform="translate(572.49,806.10) scale(1.0572,1)" font-size="16.5" font-weight="normal" fill="#000">10</text>
</svg>
</body></html>
